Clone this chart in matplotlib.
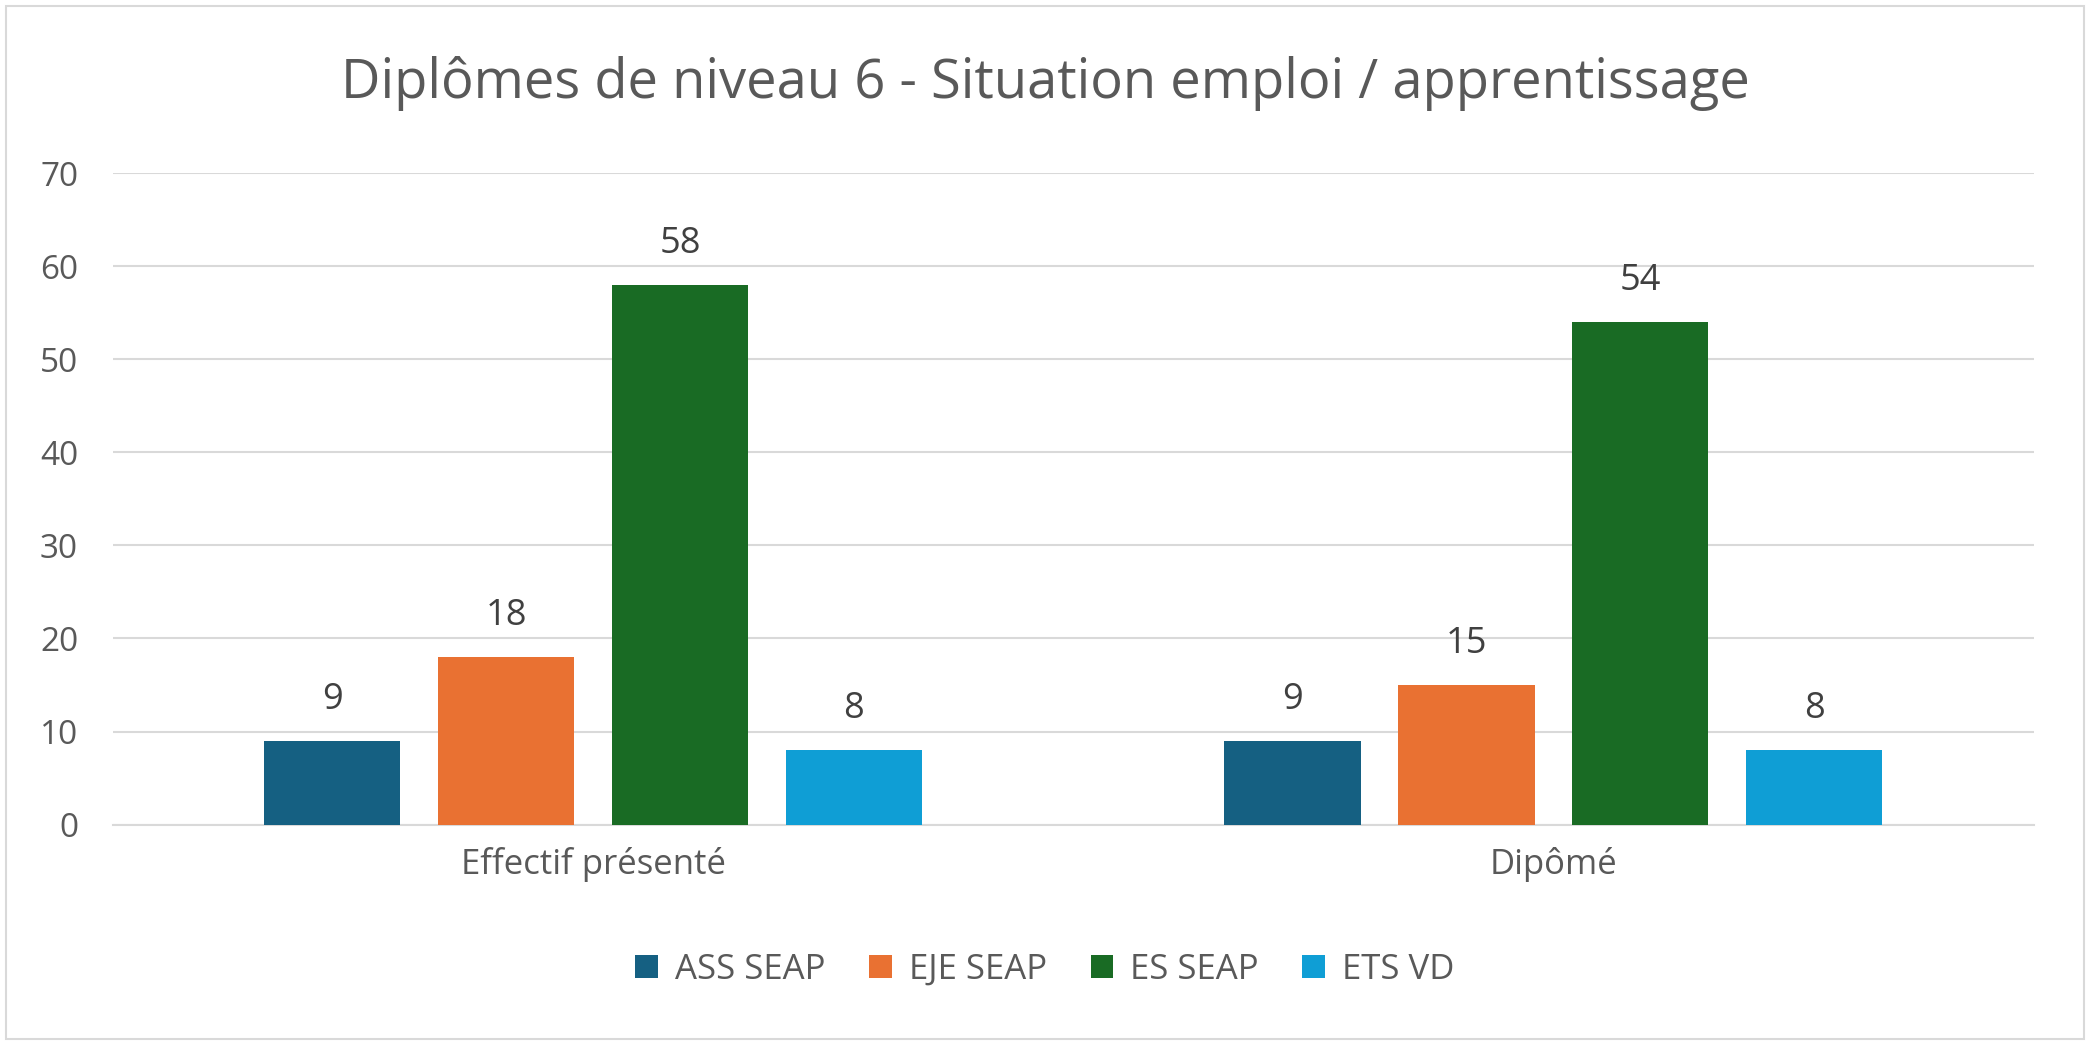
import matplotlib
matplotlib.use("Agg")
import matplotlib.pyplot as plt
import numpy as np
from matplotlib.patches import Rectangle

categories = ["Effectif présenté", "Dipômé"]
series_names = ["ASS SEAP", "EJE SEAP", "ES SEAP", "ETS VD"]
ass = [9, 9]
eje = [18, 15]
es = [58, 54]
ets = [8, 8]
values = [ass, eje, es, ets]
colors = ["#156082", "#E97132", "#196B24", "#0F9ED5"]
title = "Diplômes de niveau 6 - Situation emploi / apprentissage"

plt.rcParams['font.family'] = ['Open Sans', 'DejaVu Sans']
txt = "#595959"

fig = plt.figure(figsize=(20.9, 10.45), dpi=100)
fig.patches.append(Rectangle((0.003, 0.006), 0.994, 0.988, transform=fig.transFigure,
                             fill=False, edgecolor="#D9D9D9", linewidth=1.5))
ax = fig.add_axes([0.054, 0.211, 0.919, 0.623])

x = np.arange(len(categories))
width = 0.142
step = 0.181
for i, (name, vals, c) in enumerate(zip(series_names, values, colors)):
    pos = x + (i - 1.5) * step
    ax.bar(pos, vals, width, color=c, label=name, zorder=3)
    for p, v in zip(pos, vals):
        ax.text(p, v + 4.4, str(v), ha="center", va="center", fontsize=26, color="#404040")

ax.set_xlim(-0.5, 1.5)
ax.set_ylim(0, 70)
ax.set_yticks(range(0, 71, 10))
ax.set_xticks(x)
ax.set_xticklabels(categories)
ax.tick_params(axis="y", labelsize=24, colors=txt, length=0, pad=25)
ax.tick_params(axis="x", labelsize=25, colors=txt, length=0, pad=16)
ax.grid(axis="y", color="#D9D9D9", linewidth=1.5, zorder=0)
for s in ["top", "right", "left"]:
    ax.spines[s].set_visible(False)
ax.spines["bottom"].set_color("#D9D9D9")
ax.spines["bottom"].set_linewidth(1.5)

fig.text(0.5, 0.92, title, ha="center", va="center", fontsize=39.2, color=txt)
fig.legend(loc="center", bbox_to_anchor=(0.5, 0.072), ncol=4, frameon=False,
           fontsize=25, labelcolor=txt, handlelength=0.65, handleheight=0.65,
           columnspacing=1.25, handletextpad=0.5)

fig.savefig("out.png", dpi=100)
